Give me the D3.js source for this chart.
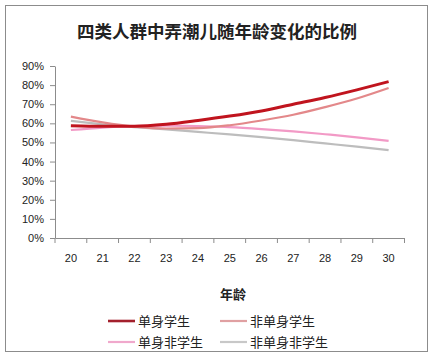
<!DOCTYPE html>
<html><head><meta charset="utf-8">
<script src="https://cdn.jsdelivr.net/npm/d3@7/dist/d3.min.js"></script>
<style>body{margin:0;background:#fff}svg{display:block}</style>
</head><body><svg id="c" width="435" height="358"></svg>
<script>
const ages = ["20","21","22","23","24","25","26","27","28","29","30"];
const yTicks = [0,10,20,30,40,50,60,70,80,90];
const seriesNames = ["单身学生","非单身学生","单身非学生","非单身非学生"];
const singleStudent    = [58.8,58.5,58.5,59.5,61.5,63.8,66.5,70,73.5,77.5,81.8];
const nonSingleStudent = [63.5,60.5,58.3,57.3,57.5,59,61.5,64.5,68.5,73,78.5];
const singleNonStudent = [56.5,57.8,58.5,58.8,58.6,58,57,55.8,54.3,52.7,50.8];
const nonSingleNonStud = [61.3,59.5,58,56.8,55.5,54.2,52.8,51.2,49.5,47.8,46];
const seriesValues = [singleStudent, nonSingleStudent, singleNonStudent, nonSingleNonStud];
const colors = ["#C0141E","#E3888A","#F29AC6","#BDBDBD"];
const legendColors = ["#A3202C","#E0A0A2","#F0A8CC","#C8C8C8"];
const widths = [3,2.2,2.2,2.2];

const svg = d3.select("#c");
const font = "'Noto Sans CJK SC','DejaVu Sans',sans-serif";
svg.append("rect").attr("x",5.5).attr("y",5.5).attr("width",422).attr("height",346)
  .attr("fill","#fff").attr("stroke","#8c8c8c").attr("stroke-width",1);

svg.append("text").attr("x",217).attr("y",38).attr("text-anchor","middle")
  .attr("font-family",font).attr("font-weight","bold").attr("font-size",17.5)
  .attr("fill","#222").text("四类人群中弄潮儿随年龄变化的比例");

const x = d3.scaleBand().domain(ages).range([55,404.5]);
const y = d3.scaleLinear().domain([0,90]).range([238,66]);

const ya = svg.append("g").attr("transform","translate(55,0)")
  .call(d3.axisLeft(y).tickValues(yTicks).tickSize(5).tickSizeOuter(0).tickFormat(d=>d+"%"));
const xa = svg.append("g").attr("transform","translate(0,238)")
  .call(d3.axisBottom(x).tickSize(0).tickPadding(16));
[ya,xa].forEach(a=>{
  a.selectAll("path").attr("stroke","#8c8c8c");
  a.selectAll("line").attr("stroke","#8c8c8c");
  a.selectAll("text").attr("font-family","'Liberation Sans',Arial,sans-serif").attr("font-size",11).attr("fill","#222");
});
ya.selectAll("text").attr("x",-11);
// x ticks at band boundaries
xa.selectAll(".bt").data(ages.concat(["end"])).enter().append("line")
  .attr("x1",(d,i)=>55+i*x.step()).attr("x2",(d,i)=>55+i*x.step())
  .attr("y1",0).attr("y2",5).attr("stroke","#8c8c8c");

const line = d3.line().x((d,i)=>x(ages[i])+x.bandwidth()/2).y(d=>y(d)).curve(d3.curveMonotoneX);
const order = [3,2,1,0];
order.forEach(k=>{
  svg.append("path").datum(seriesValues[k]).attr("d",line).attr("fill","none")
    .attr("stroke",colors[k]).attr("stroke-width",widths[k]);
});

svg.append("text").attr("x",233).attr("y",299).attr("text-anchor","middle")
  .attr("font-family",font).attr("font-weight","bold").attr("font-size",13).attr("fill","#222").text("年龄");

const lpos = [[108,321],[220,321],[108,342],[220,342]];
seriesNames.forEach((n,k)=>{
  const [lx,ly] = lpos[k];
  svg.append("line").attr("x1",lx).attr("x2",lx+27).attr("y1",ly).attr("y2",ly)
    .attr("stroke",legendColors[k]).attr("stroke-width",k===0?2.6:2.2);
  svg.append("text").attr("x",lx+30).attr("y",ly+5).attr("font-family",font)
    .attr("font-size",13).attr("fill","#222").text(n);
});
</script></body></html>
